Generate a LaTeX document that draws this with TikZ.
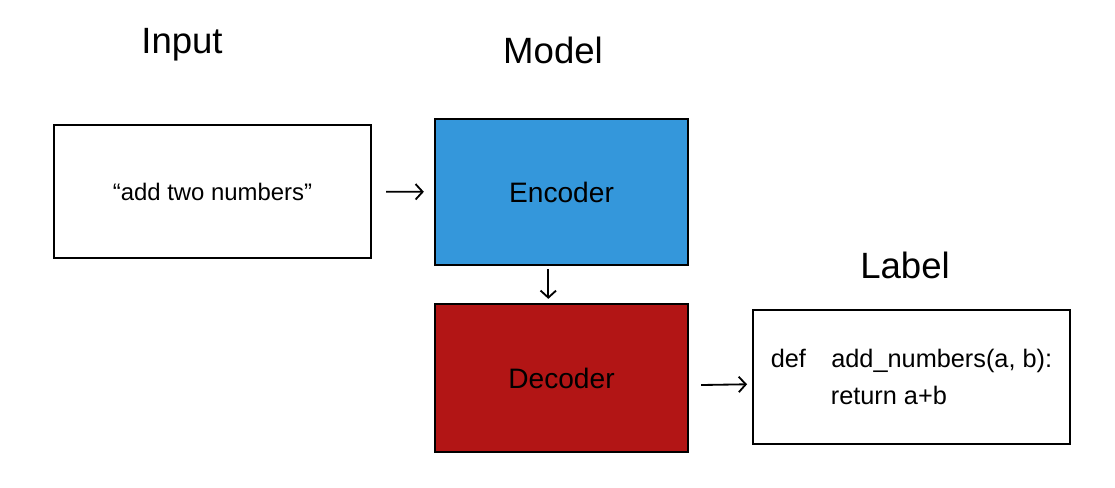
\documentclass[tikz,border=0pt]{standalone}
\usepackage{fontspec}
\setmainfont{Liberation Sans}
\usetikzlibrary{arrows.meta}
\definecolor{encblue}{RGB}{52,151,219}
\definecolor{decred}{RGB}{178,21,21}
\tikzset{
  box/.style={draw, line width=1.6pt, inner sep=0pt},
  title/.style={font=\fontsize{26}{30}\selectfont},
  flow/.style={-{Straight Barb[length=5pt,width=11pt]}, line width=1.3pt}
}
\begin{document}
\begin{tikzpicture}[x=0.025cm, y=-0.025cm]
  \useasboundingbox (0, 0) rectangle (1115, 487);
  \node[title] (inputtitle) at (182, 45) {Input};
  \node[title] (modeltitle) at (553, 50) {Model};
  \node[title] (labeltitle) at (905, 265) {Label};
  \node[box, minimum width=7.925cm, minimum height=3.325cm, font=\fontsize{17}{20}\selectfont] (input) at (212.5, 191.5) {``add two numbers''};
  \node[box, fill=encblue, minimum width=6.325cm, minimum height=3.65cm, font=\fontsize{20}{24}\selectfont] (encoder) at (561.5, 192) {Encoder};
  \node[box, fill=decred, minimum width=6.325cm, minimum height=3.7cm, font=\fontsize{20}{24}\selectfont] (decoder) at (561.5, 378) {Decoder};
  \node[box, minimum width=7.925cm, minimum height=3.35cm, align=left, font=\fontsize{18}{26}\selectfont] (label) at (911.5, 377) {def\quad add\_numbers(a, b):\\\hspace*{1.5cm}return a+b};
  \draw[flow, shorten <=0.35cm, shorten >=0.25cm] (input) -- (encoder);
  \draw[flow, shorten <=0.08cm, shorten >=0.1cm] ([xshift=-0.33cm]encoder.south) -- ([xshift=-0.33cm]decoder.north);
  \draw[flow, shorten <=0.3cm, shorten >=0.12cm] ([yshift=-0.18cm]decoder.east) -- ([yshift=-0.18cm]label.west);
\end{tikzpicture}
\end{document}
